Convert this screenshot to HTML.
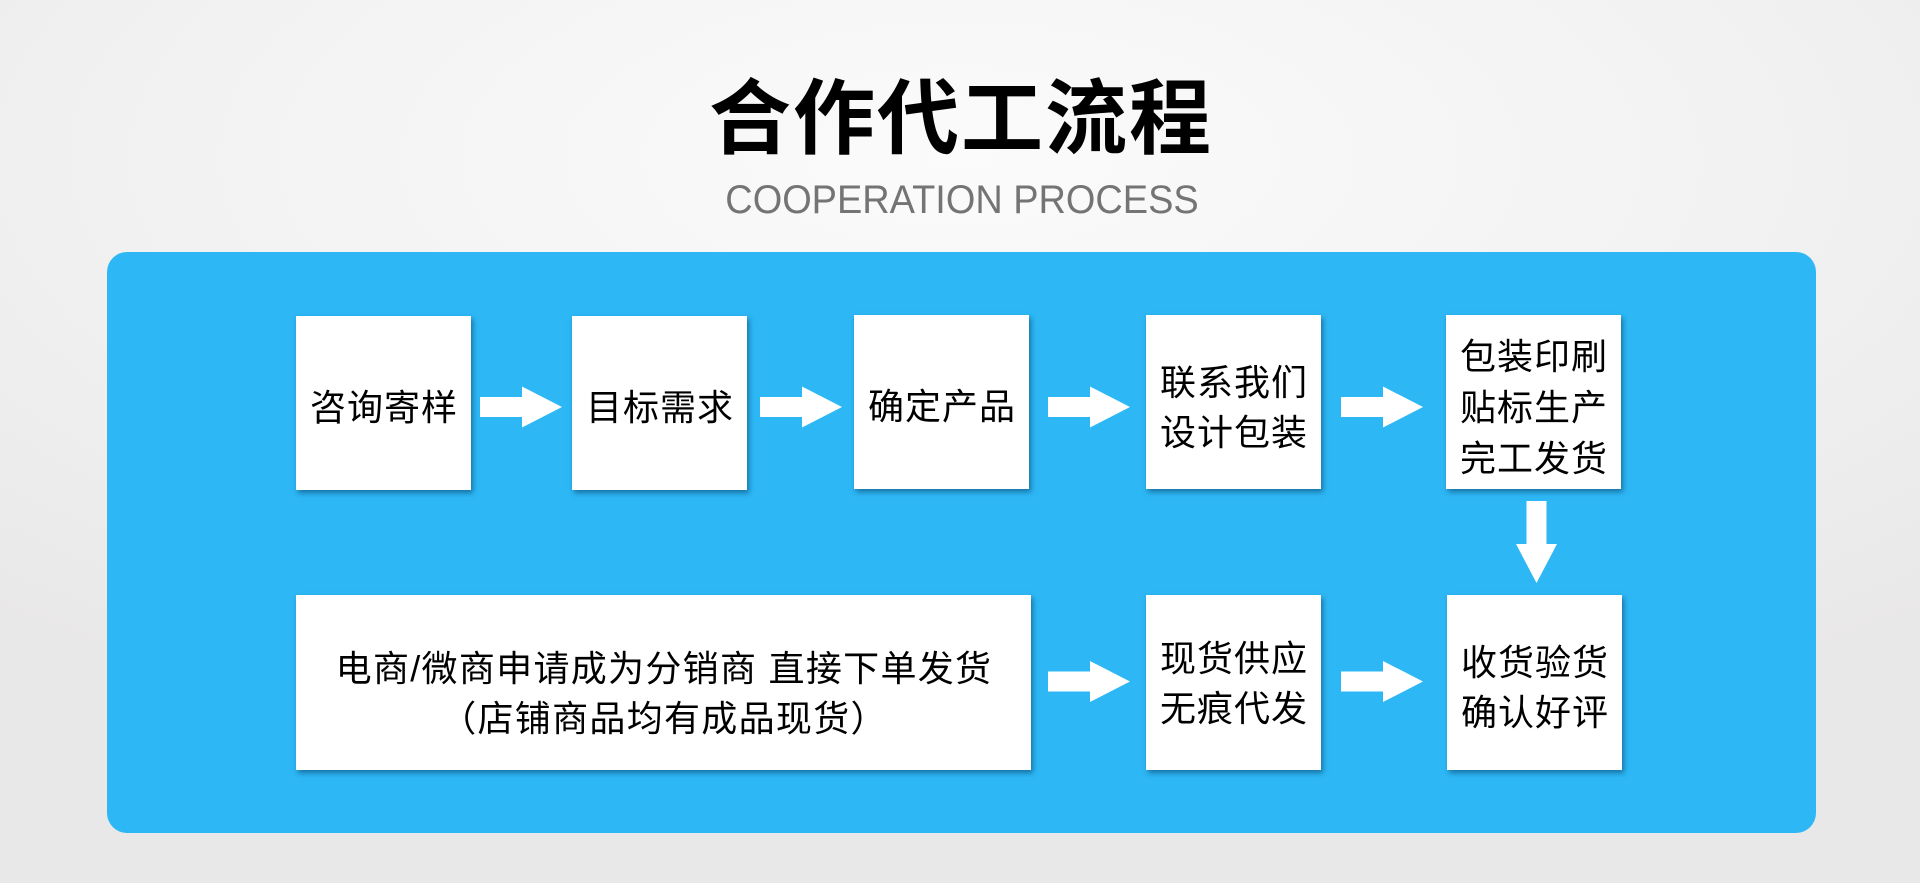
<!DOCTYPE html>
<html>
<head>
<meta charset="utf-8">
<style>
  html, body { margin: 0; padding: 0; }
  body {
    width: 1920px; height: 883px; position: relative; overflow: hidden;
    background: radial-gradient(ellipse 75% 70% at 50% 18%, #fbfbfb 0%, #f2f2f2 55%, #e9e8e8 100%);
    font-family: "Liberation Sans", "Noto Sans CJK SC", sans-serif;
  }
  .title {
    position: absolute; left: 0; top: 79px; width: 1920px; padding-left: 2px; box-sizing: border-box;
    text-align: center; font-family: "Liberation Sans", "Noto Sans CJK SC", sans-serif;
    font-size: 82px; line-height: 82px; font-weight: 700; color: #000; letter-spacing: 2px;
  }
  .sub {
    position: absolute; left: 0; top: 180px; width: 1924px; text-align: center;
    font-family: "Liberation Sans", sans-serif; font-size: 40px; line-height: 40px;
    color: #747474; transform: scaleX(0.948); transform-origin: 962px 50%;
  }
  .panel {
    position: absolute; left: 107px; top: 252px; width: 1709px; height: 581px;
    background: #2db7f5; border-radius: 20px;
  }
  .box {
    position: absolute; background: #fff; box-sizing: border-box;
    box-shadow: 2px 3px 5px rgba(0, 45, 85, 0.5);
    display: flex; flex-direction: column; align-items: center; justify-content: center;
    font-family: "Liberation Sans", "Noto Sans CJK SC", sans-serif;
    font-size: 36px; line-height: 50px; color: #000; text-align: center; letter-spacing: 1px;
    white-space: nowrap;
  }
  .box div { padding-left: 1px; }
  svg.arrows { position: absolute; left: 0; top: 0; }
</style>
</head>
<body>
  <div class="title">合作代工流程</div>
  <div class="sub">COOPERATION PROCESS</div>
  <div class="panel"></div>

  <div class="box" style="left:296px;top:316px;width:175px;height:174px;padding-top:9px;"><div>咨询寄样</div></div>
  <div class="box" style="left:572px;top:316px;width:175px;height:174px;padding-top:9px;"><div>目标需求</div></div>
  <div class="box" style="left:854px;top:315px;width:175px;height:174px;padding-top:9px;"><div>确定产品</div></div>
  <div class="box" style="left:1146px;top:315px;width:175px;height:174px;padding-top:11px;"><div>联系我们</div><div>设计包装</div></div>
  <div class="box" style="left:1446px;top:315px;width:175px;height:174px;padding-top:10px;line-height:51px;"><div>包装印刷</div><div>贴标生产</div><div>完工发货</div></div>

  <div class="box" style="left:296px;top:595px;width:735px;height:175px;padding-top:22px;letter-spacing:1.3px;"><div>电商/微商申请成为分销商 直接下单发货</div><div>（店铺商品均有成品现货）</div></div>
  <div class="box" style="left:1146px;top:595px;width:175px;height:175px;padding-top:3px;"><div>现货供应</div><div>无痕代发</div></div>
  <div class="box" style="left:1447px;top:595px;width:175px;height:175px;padding-top:10px;"><div>收货验货</div><div>确认好评</div></div>

  <svg class="arrows" width="1920" height="883" viewBox="0 0 1920 883" xmlns="http://www.w3.org/2000/svg">
    <g fill="#ffffff">
      <polygon points="480,397 522,397 522,386.5 562,407 522,427.5 522,417 480,417"/>
      <polygon points="760,397 802,397 802,386.5 842,407 802,427.5 802,417 760,417"/>
      <polygon points="1048,397 1090,397 1090,386.5 1130,407 1090,427.5 1090,417 1048,417"/>
      <polygon points="1341,397 1383,397 1383,386.5 1423,407 1383,427.5 1383,417 1341,417"/>
      <polygon points="1048,671.5 1090,671.5 1090,661 1130,681.5 1090,702 1090,691.5 1048,691.5"/>
      <polygon points="1341,671.5 1383,671.5 1383,661 1423,681.5 1383,702 1383,691.5 1341,691.5"/>
      <polygon points="1526.5,501 1546.5,501 1546.5,544 1557,544 1536.5,583 1516,544 1526.5,544"/>
    </g>
  </svg>
</body>
</html>
